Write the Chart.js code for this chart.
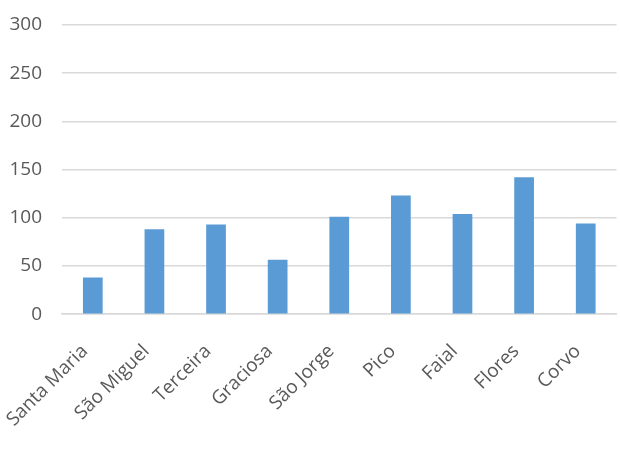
<!DOCTYPE html>
<html>
<head>
<meta charset="utf-8">
<script src="https://cdn.jsdelivr.net/npm/chart.js@4"></script>
<style>
  html, body { margin: 0; padding: 0; background: #fff; }
  #wrap { width: 620px; height: 450px; }
</style>
</head>
<body>
<div id="wrap"><canvas id="chart"></canvas></div>
<script>
const islands = ['Santa Maria', 'São Miguel', 'Terceira', 'Graciosa', 'São Jorge', 'Pico', 'Faial', 'Flores', 'Corvo'];
const values = [38, 88, 93, 56.5, 101, 123, 104, 142, 94];
const yMin = 0;
const yMax = 300;
const yStep = 50;

const textColor = '#595959';
const fontFamily = "'Open Sans', 'Noto Sans', sans-serif";

new Chart(document.getElementById('chart'), {
    type: 'bar',
    data: {
        labels: islands,
        datasets: [{
            data: values,
            backgroundColor: '#5B9BD5',
            borderWidth: 0,
            categoryPercentage: 1,
            barPercentage: 0.32
        }]
    },
    options: {
        responsive: true,
        maintainAspectRatio: false,
        animation: false,
        layout: { padding: { top: 1, right: 3, left: 9, bottom: 1 } },
        plugins: {
            legend: { display: false },
            tooltip: { enabled: false }
        },
        scales: {
            x: {
                grid: { display: false },
                border: { color: '#D9D9D9', width: 1.5 },
                // keep the first rotated label from pushing the plot to the right
                afterFit: (scale) => { scale.paddingLeft = 0; },
                ticks: {
                    color: textColor,
                    font: { family: fontFamily, size: 19 },
                    minRotation: 45,
                    maxRotation: 45,
                    labelOffset: -8,
                    padding: 18
                }
            },
            y: {
                min: yMin,
                max: yMax,
                grid: { color: '#D9D9D9', lineWidth: 1.5, drawTicks: false },
                border: { display: false },
                afterFit: (scale) => {
                    scale.width = 53;
                    scale.paddingTop = 25;
                },
                ticks: {
                    stepSize: yStep,
                    color: textColor,
                    font: { family: fontFamily, size: 19 },
                    padding: 20
                }
            }
        }
    }
});
</script>
</body>
</html>
